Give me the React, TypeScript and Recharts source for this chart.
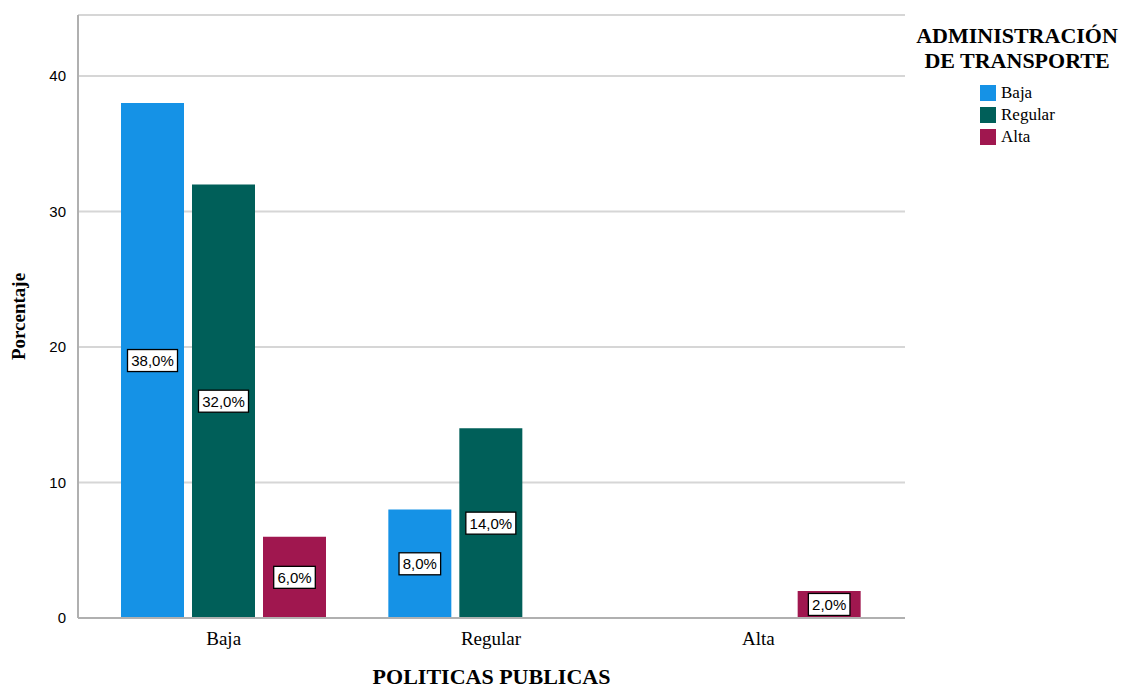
import React from "react";
import { BarChart, Bar, XAxis, YAxis, CartesianGrid, LabelList } from "recharts";

const categories = ["Baja", "Regular", "Alta"];
const bajaValues: (number | null)[] = [38, 8, null];
const regularValues: (number | null)[] = [32, 14, null];
const altaValues: (number | null)[] = [6, null, 2];
const yTicks = [0, 10, 20, 30, 40];

const seriesNames = ["Baja", "Regular", "Alta"];
const colors = ["#1592e6", "#005f59", "#a0174f"];

const data = categories.map((c, i) => ({
  cat: c,
  Baja: bajaValues[i],
  Regular: regularValues[i],
  Alta: altaValues[i],
}));

const SERIF = '"Liberation Serif", "Times New Roman", serif';
const SANS = '"Liberation Sans", Arial, sans-serif';

const BoxLabel = (props: any) => {
  const { x, y, width, height, value } = props;
  if (value == null) return null;
  const cx = x + width / 2;
  const cy = y + height / 2;
  const txt = value.toFixed(1).replace(".", ",") + "%";
  const w = txt.length * 8.4 + 8;
  return (
    <g>
      <rect x={cx - w / 2} y={cy - 11} width={w} height={22} fill="#fff" stroke="#000" strokeWidth={1.3} />
      <text x={cx} y={cy + 5.5} textAnchor="middle" fontFamily={SANS} fontSize={15} fill="#000">
        {txt}
      </text>
    </g>
  );
};

const LegendBox = () => (
  <div style={{ position: "absolute", left: 907, top: 23, width: 220, fontFamily: SERIF, color: "#000" }}>
    <div style={{ fontWeight: "bold", fontSize: 22, lineHeight: "25px", textAlign: "center", width: 220 }}>
      ADMINISTRACIÓN
      <br />
      DE TRANSPORTE
    </div>
    <div style={{ marginLeft: 73, marginTop: 9 }}>
      {seriesNames.map((n, i) => (
        <div key={n} style={{ display: "flex", alignItems: "center", height: 22, fontSize: 17 }}>
          <span style={{ width: 16, height: 16, background: colors[i], display: "inline-block", marginRight: 5 }} />
          {n}
        </div>
      ))}
    </div>
  </div>
);

export default function App() {
  return (
    <div style={{ margin: -8, width: 1129, height: 693, background: "#fff", position: "relative" }}>
      <BarChart
        width={1129}
        height={693}
        data={data}
        margin={{ top: 15, right: 224, bottom: 45, left: 0 }}
        barSize={63}
        barGap={8}
      >
        <CartesianGrid vertical={false} stroke="#d6d6d6" strokeWidth={2} />
        <XAxis
          dataKey="cat"
          height={30}
          padding={{ left: 12, right: 13 }}
          stroke="#b0b0b0"
          strokeWidth={2}
          tickLine={false}
          tick={{ fontFamily: SERIF, fontSize: 19, fill: "#000" }}
          tickMargin={8}
          label={{
            value: "POLITICAS PUBLICAS",
            position: "insideBottom",
            offset: -36,
            style: { fontFamily: SERIF, fontWeight: "bold", fontSize: 22, fill: "#000" },
          }}
        />
        <YAxis
          width={78}
          domain={[0, 44.5]}
          ticks={yTicks}
          stroke="#b0b0b0"
          strokeWidth={2}
          tickLine={false}
          tick={{ fontFamily: SANS, fontSize: 15, fill: "#000" }}
          tickMargin={6}
          label={{
            value: "Porcentaje",
            angle: -90,
            position: "insideLeft",
            offset: 18,
            style: { fontFamily: SERIF, fontWeight: "bold", fontSize: 19, fill: "#000", textAnchor: "middle" },
          }}
        />
        {seriesNames.map((n, i) => (
          <Bar key={n} dataKey={n} fill={colors[i]} isAnimationActive={false}>
            <LabelList dataKey={n} content={<BoxLabel />} />
          </Bar>
        ))}
      </BarChart>
      <LegendBox />
    </div>
  );
}
